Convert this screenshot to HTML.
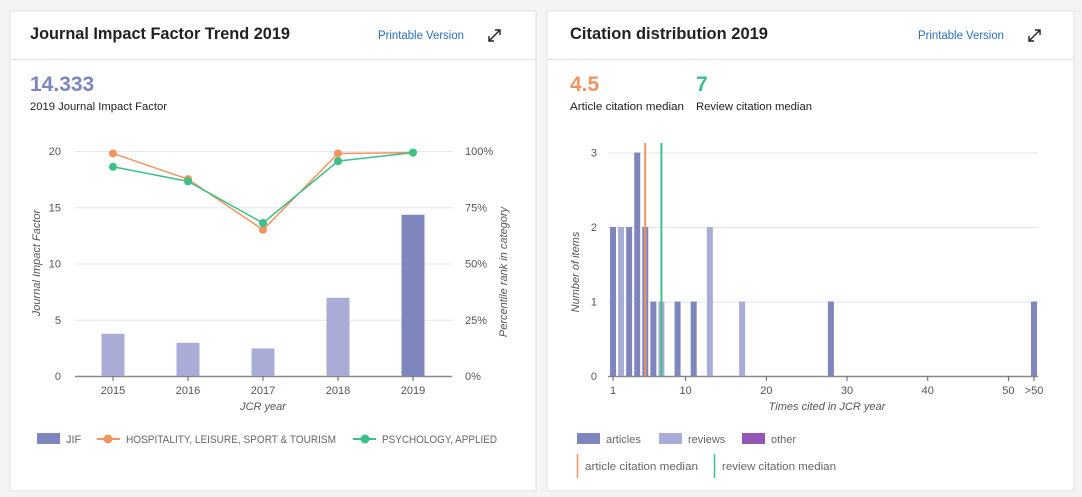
<!DOCTYPE html>
<html><head><meta charset="utf-8"><style>
body{margin:0;background:#f4f4f4;width:1082px;height:497px;overflow:hidden;font-family:"Liberation Sans",sans-serif}
svg{display:block}
text{font-family:"Liberation Sans",sans-serif}
</style></head><body>
<svg id="s" width="1082" height="497" xmlns="http://www.w3.org/2000/svg">
<rect x="10" y="11" width="526" height="480" fill="#fff" stroke="#e2e2e2"/>
<rect x="547" y="11" width="527" height="480" fill="#fff" stroke="#e2e2e2"/>
<line x1="10" y1="59.5" x2="536" y2="59.5" stroke="#e2e2e2"/>
<line x1="547" y1="59.5" x2="1074" y2="59.5" stroke="#e2e2e2"/>
<text x="30" y="39" font-size="17" font-weight="bold" fill="#222" textLength="260" lengthAdjust="spacingAndGlyphs">Journal Impact Factor Trend 2019</text>
<text x="378" y="39" font-size="11.5" fill="#2a6ebb" textLength="86" lengthAdjust="spacingAndGlyphs">Printable Version</text>
<g stroke="#222" stroke-width="1.4" fill="none"><line x1="489" y1="41" x2="500" y2="30"/><path d="M495 30h5v5M489 36v5h5"/></g>
<text x="570" y="39" font-size="17" font-weight="bold" fill="#222" textLength="198" lengthAdjust="spacingAndGlyphs">Citation distribution 2019</text>
<text x="918" y="39" font-size="11.5" fill="#2a6ebb" textLength="86" lengthAdjust="spacingAndGlyphs">Printable Version</text>
<g stroke="#222" stroke-width="1.4" fill="none"><line x1="1029" y1="41" x2="1040" y2="30"/><path d="M1035 30h5v5M1029 36v5h5"/></g>
<text x="30" y="91" font-size="21" font-weight="bold" fill="#7f86bd">14.333</text>
<text x="30" y="110" font-size="11" fill="#222" textLength="137" lengthAdjust="spacingAndGlyphs">2019 Journal Impact Factor</text>
<text x="570" y="91" font-size="21" font-weight="bold" fill="#f0955f">4.5</text>
<text x="570" y="110" font-size="11" fill="#222" textLength="114" lengthAdjust="spacingAndGlyphs">Article citation median</text>
<text x="696" y="91" font-size="21" font-weight="bold" fill="#3dbf8a">7</text>
<text x="696" y="110" font-size="11" fill="#222" textLength="116" lengthAdjust="spacingAndGlyphs">Review citation median</text>
<g id="left"></g><g id="right"></g>
<rect x="37" y="433" width="23" height="11" fill="#7f86bd"/>
<text x="66" y="443" font-size="11" fill="#666">JIF</text>
<line x1="97" y1="439" x2="120" y2="439" stroke="#f0955f" stroke-width="2"/><circle cx="108" cy="439" r="4.5" fill="#f0955f"/>
<text x="126" y="443" font-size="11" fill="#666" textLength="210" lengthAdjust="spacingAndGlyphs">HOSPITALITY, LEISURE, SPORT &amp; TOURISM</text>
<line x1="353" y1="439" x2="376" y2="439" stroke="#3dbf8a" stroke-width="2"/><circle cx="365" cy="439" r="4.5" fill="#3dbf8a"/>
<text x="382" y="443" font-size="11" fill="#666" textLength="115" lengthAdjust="spacingAndGlyphs">PSYCHOLOGY, APPLIED</text>
<rect x="577" y="433" width="23" height="11" fill="#7f86bd"/>
<text x="606" y="443" font-size="11" fill="#666">articles</text>
<rect x="659" y="433" width="23" height="11" fill="#a8acd6"/>
<text x="688" y="443" font-size="11" fill="#666">reviews</text>
<rect x="742" y="433" width="23" height="11" fill="#9457b5"/>
<text x="771" y="443" font-size="11" fill="#666">other</text>
<line x1="577.5" y1="454" x2="577.5" y2="478" stroke="#f0955f" stroke-width="1.5"/>
<text x="585" y="470" font-size="11" fill="#666" textLength="113" lengthAdjust="spacingAndGlyphs">article citation median</text>
<line x1="714.5" y1="454" x2="714.5" y2="478" stroke="#3dbf8a" stroke-width="1.5"/>
<text x="722" y="470" font-size="11" fill="#666" textLength="114" lengthAdjust="spacingAndGlyphs">review citation median</text>
</svg>
<script>
const years=["2015","2016","2017","2018","2019"];
const jif=[3.75,2.95,2.45,6.95,14.333];
const hospitality=[98.9,87.5,65,98.9,99.3];
const psychology=[93,86.5,68,95.5,99.3];
const jifTicks=[0,5,10,15,20];
const pctTicks=["0%","25%","50%","75%","100%"];
const citedValues=[1,2,3,4,5,6,7,9,11,13,17,28,51];
const citedCounts=[2,2,2,3,2,1,1,1,1,2,1,1,1];
const citedType=["a","r","a","a","a","a","r","a","a","r","r","a","a"];
const xTicks=[1,10,20,30,40,50];
const countTicks=[0,1,2,3];
const medians=[4.5,7];
const NS="http://www.w3.org/2000/svg";
function mk(p,t,a,txt){const e=document.createElementNS(NS,t);for(const k in a)e.setAttribute(k,a[k]);if(txt!=null)e.textContent=txt;p.appendChild(e);return e;}
const L=document.getElementById('left');
const yJ=v=>376-v*(225/20), yP=v=>376-v*2.25, xY=i=>113+i*75;
jifTicks.forEach((t,i)=>{mk(L,'line',{x1:75,x2:452,y1:yJ(t)+.5,y2:yJ(t)+.5,stroke:i?'#e3e5f1':'#888','stroke-width':i?1:1.5});
 mk(L,'text',{x:61,y:yJ(t)+4,'font-size':11,fill:'#555','text-anchor':'end'},t);
 mk(L,'text',{x:465,y:yJ(t)+4,'font-size':11,fill:'#555'},pctTicks[i]);});
jif.forEach((v,i)=>{const b=mk(L,'rect',{x:xY(i)-11.5,y:yJ(v),width:23,height:376-yJ(v),fill:i==4?'#7f86bd':'#a8acd6'});


 mk(L,'line',{x1:xY(i),x2:xY(i),y1:376,y2:381,stroke:'#666'});
 mk(L,'text',{x:xY(i),y:394,'font-size':11,fill:'#555','text-anchor':'middle'},years[i]);});
[[hospitality,'#f0955f','hospitality'],[psychology,'#3dbf8a','psychology']].forEach(([d,c,n])=>{
 const l=mk(L,'polyline',{points:d.map((v,i)=>xY(i)+','+yP(v)).join(' '),fill:'none',stroke:c,'stroke-width':1.5});
 
 
 d.forEach((v,i)=>{const p=mk(L,'circle',{cx:xY(i),cy:yP(v),r:4,fill:c});
 
 });});
mk(L,'text',{x:263,y:410,'font-size':11,fill:'#555','font-style':'italic','text-anchor':'middle'},'JCR year');
mk(L,'text',{transform:'translate(40,263) rotate(-90)','font-size':11,fill:'#555','font-style':'italic','text-anchor':'middle'},'Journal Impact Factor');
mk(L,'text',{transform:'translate(507,272) rotate(-90)','font-size':11,fill:'#555','font-style':'italic','text-anchor':'middle'},'Percentile rank in category');
const R=document.getElementById('right');
const xC=v=>v>50?1034:613+(v-1)*8.07, yC=v=>376-v*74.5;
countTicks.forEach((t,i)=>{mk(R,'line',{x1:608,x2:1038,y1:yC(t)+.5,y2:yC(t)+.5,stroke:i?'#e3e5f1':'#888','stroke-width':i?1:1.5});
 mk(R,'text',{x:597,y:yC(t)+4,'font-size':11,fill:'#555','text-anchor':'end'},t);});
xTicks.concat([51]).forEach(t=>{mk(R,'line',{x1:xC(t),x2:xC(t),y1:376,y2:381,stroke:'#666'});
 mk(R,'text',{x:xC(t),y:394,'font-size':11,fill:'#555','text-anchor':'middle'},t>50?'>50':t);});
citedValues.forEach((v,i)=>{const b=mk(R,'rect',{x:xC(v)-3,y:yC(citedCounts[i]),width:6,height:376-yC(citedCounts[i]),fill:citedType[i]=='a'?'#7f86bd':'#a8acd6'});

});
medians.forEach((m,i)=>{const l=mk(R,'line',{x1:xC(m)+(i?0:4),x2:xC(m)+(i?0:4),y1:143,y2:376,stroke:i?'#3dbf8a':'#f0955f','stroke-width':2});

});
mk(R,'text',{x:827,y:410,'font-size':11,fill:'#555','font-style':'italic','text-anchor':'middle'},'Times cited in JCR year');
mk(R,'text',{transform:'translate(579,272) rotate(-90)','font-size':11,fill:'#555','font-style':'italic','text-anchor':'middle'},'Number of items');
</script>
</body></html>
